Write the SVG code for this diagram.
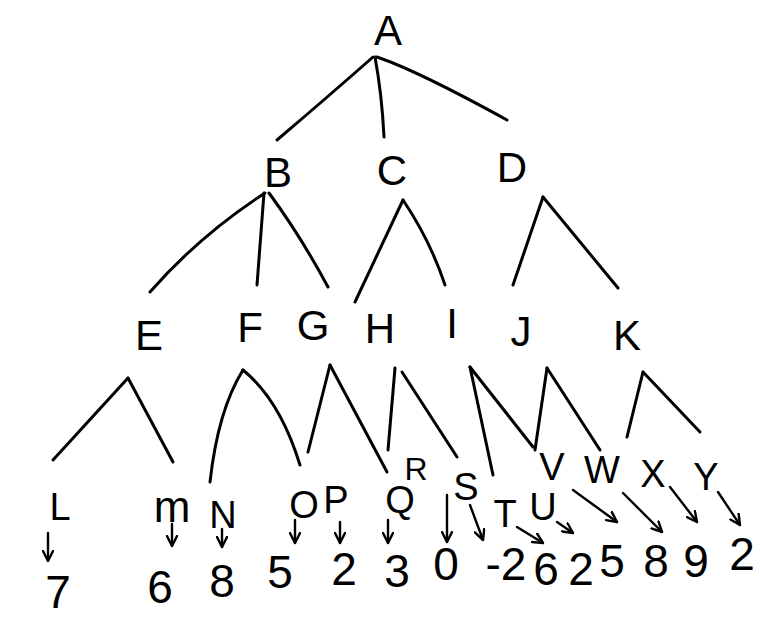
<svg xmlns="http://www.w3.org/2000/svg" width="760" height="618" viewBox="0 0 760 618">
<defs>
<marker id="ah" viewBox="0 0 12 12" refX="11" refY="6" markerWidth="12" markerHeight="12" markerUnits="userSpaceOnUse" orient="auto">
<path d="M1,1 L11,6 L1,11" fill="none" stroke="#000" stroke-width="2.4" stroke-linecap="round" stroke-linejoin="round"/>
</marker>
<style>
.e{fill:none;stroke:#000;stroke-width:3;stroke-linecap:round;stroke-linejoin:round}
.a{fill:none;stroke:#000;stroke-width:2.4;stroke-linecap:round;marker-end:url(#ah)}
text{font-family:"Liberation Sans","DejaVu Sans",sans-serif;fill:#000;text-anchor:middle}
.n{font-size:42px}
.l{font-size:38px}
.v{font-size:46px}
</style>
</defs>
<rect width="760" height="618" fill="#fff"/>
<g id="connectors">
<path class="e" d="M373,57 Q330,95 277,140"/>
<path class="e" d="M375,57 Q382,95 384,137"/>
<path class="e" d="M377,57 Q418,71 507,120"/>
<path class="e" d="M265,193 Q200,235 150,292"/>
<path class="e" d="M264,193 L257,285"/>
<path class="e" d="M269,193 Q300,235 328,287"/>
<path class="e" d="M403,200 L355,302"/>
<path class="e" d="M403,200 Q430,240 445,285"/>
<path class="e" d="M543,197 L513,285"/>
<path class="e" d="M543,197 L618,288"/>
<path class="e" d="M128,378 L53,460"/>
<path class="e" d="M128,378 L173,462"/>
<path class="e" d="M243,370 Q218,410 210,482"/>
<path class="e" d="M243,370 Q280,400 300,465"/>
<path class="e" d="M330,365 L308,452"/>
<path class="e" d="M330,365 L387,472"/>
<path class="e" d="M395,368 L388,450"/>
<path class="e" d="M402,372 L457,457"/>
<path class="e" d="M470,367 L493,475"/>
<path class="e" d="M470,367 L533,447"/>
<path class="e" d="M547,368 L535,450"/>
<path class="e" d="M547,368 L600,450"/>
<path class="e" d="M643,372 L627,437"/>
<path class="e" d="M643,372 L700,432"/>
<path class="a" d="M48,533 L48,561"/>
<path class="a" d="M172,524 L172,546"/>
<path class="a" d="M222,529 L222,547"/>
<path class="a" d="M295,520 L295,543"/>
<path class="a" d="M340,522 L340,543"/>
<path class="a" d="M388,520 L388,543"/>
<path class="a" d="M447,495 L447,542"/>
<path class="a" d="M470,505 L483,540"/>
<path class="a" d="M517,527 L543,543"/>
<path class="a" d="M557,522 L573,533"/>
<path class="a" d="M573,490 L617,522"/>
<path class="a" d="M623,493 L662,532"/>
<path class="a" d="M670,487 L697,522"/>
<path class="a" d="M718,492 L740,525"/>
</g>
<g id="node-A"><text class="n" x="388" y="45">A</text></g>
<g id="node-B"><text class="n" x="278" y="187">B</text></g>
<g id="node-C"><text class="n" x="392" y="185">C</text></g>
<g id="node-D"><text class="n" x="512" y="182">D</text></g>
<g id="node-E"><text class="n" x="149" y="350">E</text></g>
<g id="node-F"><text class="n" x="250" y="342">F</text></g>
<g id="node-G"><text class="n" x="313" y="340">G</text></g>
<g id="node-H"><text class="n" x="380" y="343">H</text></g>
<g id="node-I"><text class="n" x="452" y="338">I</text></g>
<g id="node-J"><text class="n" x="521" y="346">J</text></g>
<g id="node-K"><text class="n" x="627" y="350">K</text></g>
<g id="node-L"><text class="l" x="60" y="520">L</text></g>
<g id="node-M"><text class="l" x="172" y="522" style="font-size:44px">m</text></g>
<g id="node-N"><text class="l" x="223" y="528">N</text></g>
<g id="node-O"><text class="l" x="304" y="518">O</text></g>
<g id="node-P"><text class="l" x="336" y="513">P</text></g>
<g id="node-Q"><text class="l" x="400" y="513">Q</text></g>
<g id="node-R"><text class="l" x="416" y="480" style="font-size:32px">R</text></g>
<g id="node-S"><text class="l" x="466" y="500">S</text></g>
<g id="node-T"><text class="l" x="505" y="527">T</text></g>
<g id="node-U"><text class="l" x="543" y="520">U</text></g>
<g id="node-V"><text class="l" x="552" y="480">V</text></g>
<g id="node-W"><text class="l" x="602" y="483">W</text></g>
<g id="node-X"><text class="l" x="653" y="487">X</text></g>
<g id="node-Y"><text class="l" x="706" y="490">Y</text></g>
<g id="values">
<text class="v" x="58" y="608">7</text>
<text class="v" x="160" y="603">6</text>
<text class="v" x="222" y="597">8</text>
<text class="v" x="280" y="588">5</text>
<text class="v" x="344" y="585">2</text>
<text class="v" x="397" y="587">3</text>
<text class="v" x="446" y="580">0</text>
<text class="v" x="506" y="580">-2</text>
<text class="v" x="546" y="585">6</text>
<text class="v" x="581" y="585">2</text>
<text class="v" x="612" y="577">5</text>
<text class="v" x="656" y="577">8</text>
<text class="v" x="696" y="577">9</text>
<text class="v" x="742" y="570">2</text>
</g>
</svg>
